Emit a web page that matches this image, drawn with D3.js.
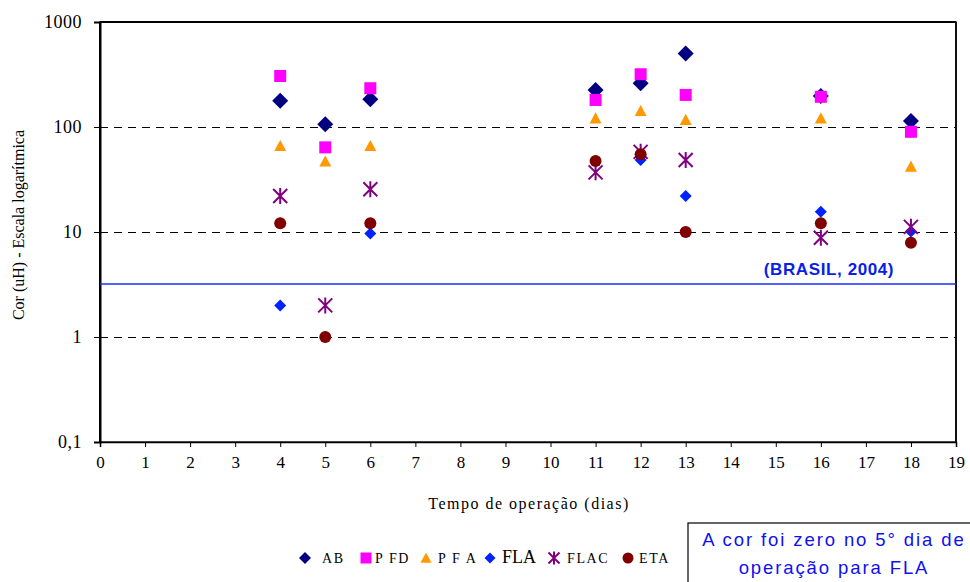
<!DOCTYPE html>
<html><head><meta charset="utf-8">
<script src="https://cdn.jsdelivr.net/npm/d3@7"></script>
<style>body{margin:0;background:#fff}svg{display:block}</style>
</head><body>
<svg id="c" width="970" height="582"></svg>
<script>
const days = [4, 5, 6, 11, 12, 13, 16, 18];
const AB   = [178, 106, 184, 225, 261, 501, 197, 114];
const PFD  = [306, 64, 234, 181, 318, 202, 194, 90];
const PFA  = [66, 47, 66, 121, 142, 117, 121, 42];
const FLA  = [2, null, 9.7, null, 48.5, 22, 15.6, 10.1];
const FLAC = [22, 2, 25.5, 37, 58, 48.5, 8.8, 11.2];
const ETA  = [12.1, 1, 12.1, 47.5, 55, 10, 12.1, 7.9];
const limitValue = 3.2;
const xTicks = d3.range(0, 20);
const yTicks = [0.1, 1, 10, 100, 1000];
const yTickLabels = ["0,1", "1", "10", "100", "1000"];
const gridValues = [1, 10, 100];
const seriesNames = ["AB", "PFD", "PFA", "FLA", "FLAC", "ETA"];
const legendLabels = ["AB", "P FD", "P F A", "FLA", "FLAC", "ETA"];

const series = [
  {name:"AB", vals:AB, color:"#000080", shape:"diamond", size:16},
  {name:"PFD", vals:PFD, color:"#ff00ff", shape:"square", size:12},
  {name:"PFA", vals:PFA, color:"#ff9900", shape:"triangle", size:12},
  {name:"FLA", vals:FLA, color:"#0022ff", shape:"diamond", size:12},
  {name:"FLAC", vals:FLAC, color:"#800080", shape:"star", size:14},
  {name:"ETA", vals:ETA, color:"#800000", shape:"circle", size:12}
];

const svg = d3.select("#c");
const L = 100, R = 956, T = 22, B = 442;
const x = d3.scaleLinear().domain([0, 19]).range([L, R]);
const y = d3.scaleLog().domain([0.1, 1000]).range([B, T]);
const serif = "'Liberation Serif','Times New Roman',serif";
const sans = "'Liberation Sans',Arial,sans-serif";

// grid
svg.append("g").selectAll("line").data(gridValues).join("line")
  .attr("x1", L).attr("x2", R).attr("y1", d => Math.round(y(d)) + 0.5).attr("y2", d => Math.round(y(d)) + 0.5)
  .attr("stroke", "#000").attr("stroke-width", 1).attr("stroke-dasharray", "8,6");

// frame
svg.append("rect").attr("x", L).attr("y", T).attr("width", R - L).attr("height", B - T)
  .attr("fill", "none").attr("stroke", "#222").attr("stroke-width", 1.5);
svg.append("line").attr("x1", L).attr("x2", R).attr("y1", T).attr("y2", T).attr("stroke", "#000").attr("stroke-width", 2);
svg.append("line").attr("x1", L).attr("x2", L).attr("y1", T).attr("y2", B).attr("stroke", "#000").attr("stroke-width", 2);
svg.append("line").attr("x1", R).attr("x2", R).attr("y1", T).attr("y2", B).attr("stroke", "#111").attr("stroke-width", 2);

// axes
const xAxis = d3.axisBottom(x).tickValues(xTicks).tickSize(5).tickPadding(9).tickFormat(d3.format("d"));
const gx = svg.append("g").attr("transform", `translate(0,${B})`).call(xAxis);
gx.attr("font-family", serif);
gx.select(".domain").attr("stroke", "#000").attr("stroke-width", 1.5);
gx.selectAll(".tick line").attr("stroke", "#000");
gx.selectAll("text").attr("font-family", serif).attr("font-size", 17).attr("fill", "#000");

const yAxis = d3.axisLeft(y).tickValues(yTicks).tickSize(6).tickPadding(12)
  .tickFormat((d, i) => yTickLabels[i]);
const gy = svg.append("g").attr("transform", `translate(${L},0)`).call(yAxis);
gy.attr("font-family", serif);
gy.select(".domain").attr("stroke", "#000").attr("stroke-width", 2);
gy.selectAll(".tick line").attr("stroke", "#000");
gy.selectAll("text").attr("font-family", serif).attr("font-size", 18).attr("fill", "#000").attr("letter-spacing", "0.5px");

// limit line
svg.append("line").attr("x1", L).attr("x2", R).attr("y1", y(limitValue)).attr("y2", y(limitValue))
  .attr("stroke", "#1a2cff").attr("stroke-width", 1.6);
svg.append("text").attr("x", 829).attr("y", y(limitValue) - 9).attr("text-anchor", "middle")
  .attr("font-family", sans).attr("font-weight", "bold").attr("font-size", 17).attr("letter-spacing", "0.6px").attr("fill", "#0a1ee6")
  .text("(BRASIL, 2004)");

// titles
svg.append("text").attr("transform", `translate(24,225) rotate(-90)`).attr("text-anchor", "middle")
  .attr("font-family", serif).attr("font-size", 16).text("Cor (uH) - Escala logarítmica");
svg.append("text").attr("x", 529).attr("y", 509).attr("text-anchor", "middle")
  .attr("font-family", serif).attr("font-size", 16).attr("letter-spacing", "1.5px").text("Tempo de operação (dias)");

function drawSym(g, shape, size, color) {
  const h = size / 2;
  if (shape === "diamond") {
    g.append("path").attr("d", `M0,${-h}L${h},0L0,${h}L${-h},0Z`).attr("fill", color);
  } else if (shape === "square") {
    g.append("rect").attr("x", -h).attr("y", -h).attr("width", size).attr("height", size).attr("fill", color);
  } else if (shape === "triangle") {
    g.append("path").attr("d", `M0,${-h}L${h},${h * 0.85}L${-h},${h * 0.85}Z`).attr("fill", color);
  } else if (shape === "circle") {
    g.append("circle").attr("r", h).attr("fill", color);
  } else if (shape === "star") {
    const p = `M${-h},${-h}L${h},${h}M${-h},${h}L${h},${-h}M0,${-h - 1}L0,${h + 1}`;
    g.append("path").attr("d", p).attr("stroke", color).attr("stroke-width", 2).attr("fill", "none");
  }
}

// points
series.forEach(s => {
  const g = svg.append("g");
  days.forEach((d, i) => {
    const v = s.vals[i];
    if (v == null) return;
    const pg = g.append("g").attr("transform", `translate(${x(d)},${y(v)})`);
    drawSym(pg, s.shape, s.size, s.color);
  });
});

// legend
const legX = [305, 366, 426, 490, 554, 628];
const legTextX = [322, 375, 438, 502, 567, 639];
series.forEach((s, i) => {
  const g = svg.append("g").attr("transform", `translate(${legX[i]},558)`);
  drawSym(g, s.shape, s.name === "AB" ? 12 : 11, s.color);
  svg.append("text").attr("x", legTextX[i]).attr("y", 563)
    .attr("font-family", serif).attr("font-size", s.name === "FLA" ? 18 : 14)
    .attr("letter-spacing", s.name === "FLA" ? "0px" : "1.6px").text(legendLabels[i]);
});

// note box
svg.append("rect").attr("x", 688).attr("y", 523).attr("width", 290).attr("height", 70)
  .attr("fill", "#fff").attr("stroke", "#000").attr("stroke-width", 1.2);
svg.append("text").attr("x", 834).attr("y", 546).attr("text-anchor", "middle")
  .attr("font-family", sans).attr("font-size", 18.5).attr("letter-spacing", "1.9px").attr("fill", "#1010f0").text("A cor foi zero no 5° dia de");
svg.append("text").attr("x", 834).attr("y", 574).attr("text-anchor", "middle")
  .attr("font-family", sans).attr("font-size", 18.5).attr("letter-spacing", "1.9px").attr("fill", "#1010f0").text("operação para FLA");
</script>
</body></html>
